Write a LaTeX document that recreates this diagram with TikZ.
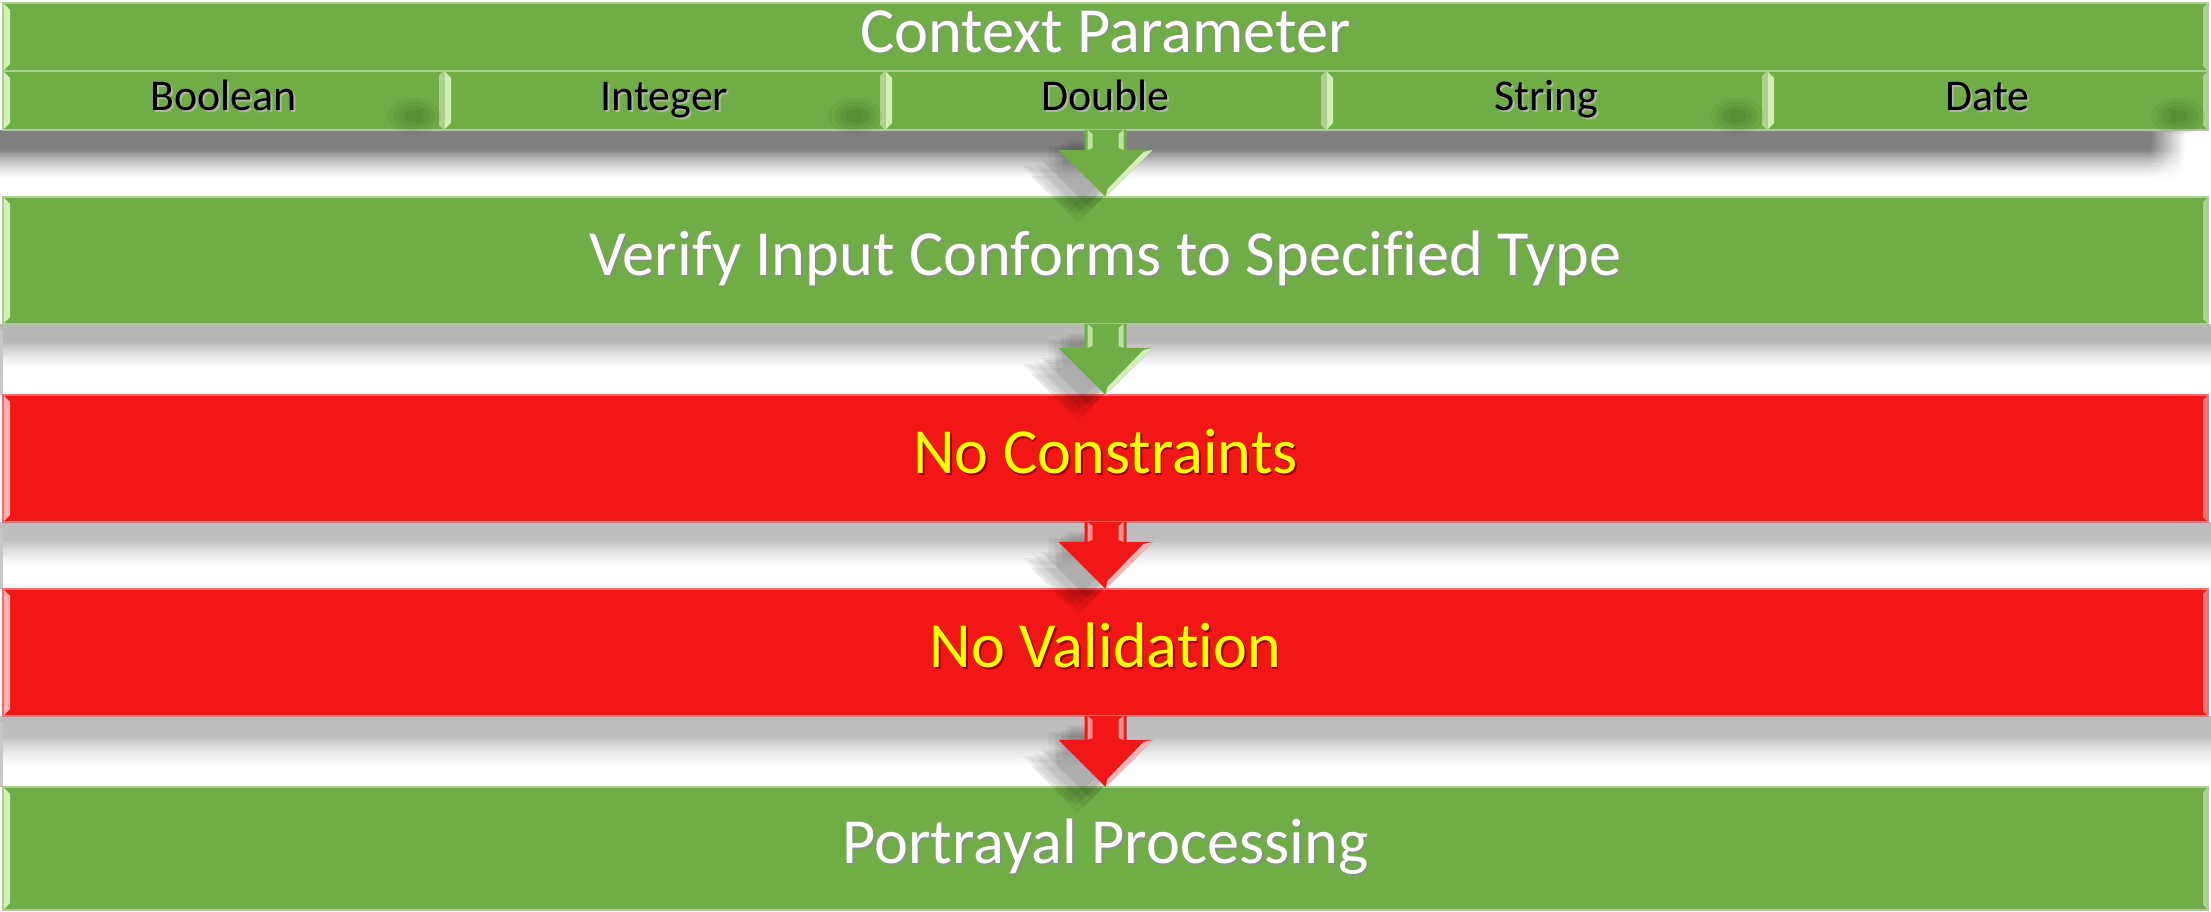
\documentclass[tikz,border=0pt]{standalone}
\usepackage{fontspec}
\setmainfont{Carlito}[Ligatures=NoCommon]
\usetikzlibrary{calc}
\definecolor{gfill}{HTML}{70AD47}
\definecolor{gedge}{HTML}{A9D18E}
\definecolor{glight}{HTML}{D2F0B4}
\definecolor{gdark}{HTML}{3F6A25}
\definecolor{rfill}{HTML}{F31616}
\definecolor{redge}{HTML}{FF6A6A}
\definecolor{rlight}{HTML}{FFB0B0}
\definecolor{ytext}{HTML}{FFFF00}
\newcommand{\dsh}[2]{\rlap{\kern0.5pt\raisebox{-0.5pt}{\textcolor{#1}{#2}}}#2}
% \vshadow{x1}{x2}{ytop}{height}{darkness}: gray at top fading to white below
\newcommand{\vshadow}[5]{%
  \foreach \i in {0,...,29}{
    \pgfmathsetmacro{\cc}{#5*min(1,(1-\i/30)*1.6)^1.5}
    \fill[black!\cc] (#1,{#3+\i*#4/30}) rectangle (#2,{#3+(\i+1.3)*#4/30});
  }
}
\newcommand{\blockarrow}[4]{%
  \foreach \dx/\dy in {-18/10,-24/14,-30/18,-22/20,-14/12,-36/16,-28/26}{
    \fill[black,opacity=0.05] ($(#1)+(-21+\dx,\dy)$) -- ($(#1)+(21+\dx,\dy)$) -- ($(#2)+(21+\dx,-47+\dy)$) -- ($(#2)+(47+\dx,-47+\dy)$) -- ($(#2)+(\dx,\dy)$) -- ($(#2)+(-47+\dx,-47+\dy)$) -- ($(#2)+(-21+\dx,-47+\dy)$) -- cycle;
  }
  \fill[#3] ($(#1)+(-21,0)$) -- ($(#1)+(21,0)$) -- ($(#2)+(21,-47)$) -- ($(#2)+(47,-47)$) -- (#2) -- ($(#2)+(-47,-47)$) -- ($(#2)+(-21,-47)$) -- cycle;
  \fill[#4,opacity=0.8] ($(#1)+(-18,0)$) -- ($(#1)+(-13,4)$) -- ($(#2)+(-13,-49)$) -- ($(#2)+(-18,-47)$) -- cycle;
  \fill[#4,opacity=0.8] ($(#1)+(18,0)$) -- ($(#1)+(13,4)$) -- ($(#2)+(13,-49)$) -- ($(#2)+(18,-47)$) -- cycle;
  \fill[#4] (#2) -- ($(#2)+(47,-47)$) -- ($(#2)+(38,-45)$) -- ($(#2)+(2,-8)$) -- cycle;
}
\begin{document}
\begin{tikzpicture}[x=0.1mm,y=-0.1mm,
  bevel/.style={path picture={
    \fill[#1] (path picture bounding box.north west) -- ++(7,7) -- ($(path picture bounding box.south west)+(7,-7)$) -- (path picture bounding box.south west) -- cycle;
    \fill[#1,opacity=0.6] (path picture bounding box.north east) -- ++(-5,5) -- ($(path picture bounding box.south east)+(-5,-5)$) -- (path picture bounding box.south east) -- cycle;
  }},
  band/.style={rectangle, inner sep=0pt, outer sep=0pt, line width=0.6pt, minimum width=220.5mm},
  gband/.style={band, fill=gfill, draw=gedge, bevel=glight},
  rband/.style={band, fill=rfill, draw=redge, bevel=rlight},
  cell/.style={rectangle, inner sep=0pt, outer sep=0pt, line width=0.6pt, fill=gfill, draw=gedge, bevel=glight, minimum width=44.1mm, minimum height=5.9mm, font=\fontsize{12.5}{15}\selectfont, text=black, text height=8.6pt, text depth=2.7pt},
  bigtext/.style={font=\fontsize{18.3}{22}\selectfont, text height=12.6pt, text depth=4pt}
]
\useasboundingbox (0,0) rectangle (2211,912);
\fill[white] (0,0) rectangle (2211,912);
% shadows below bands
\vshadow{0}{2150}{130}{50}{50}
\foreach \i in {0,...,19}{
  \pgfmathsetmacro{\cc}{50*min(1,(1-\i/20)*1.6)^1.5}
  \shade[left color=black!\cc, right color=white] (2150,{130+\i*2.5}) rectangle (2185,{130+(\i+1.3)*2.5});
}
\vshadow{0}{2211}{324}{46}{28}
\vshadow{0}{2211}{522}{46}{26}
\vshadow{0}{2211}{716}{52}{26}
\fill[black!22] (0,330) rectangle (3,395);
\fill[black!22] (0,528) rectangle (3,589);
\fill[black!22] (0,722) rectangle (3,787);

% top band
\node[gband, minimum height=6.8mm, text=white, bigtext] (ctx) at (1105.5,37) {\dsh{black!45}{Context Parameter}};
\node[cell] (bool) at (223.5,100.5) {\dsh{black!30}{Boolean}};
\node[cell] (int)  at (664.5,100.5) {\dsh{black!30}{Integer}};
\node[cell] (dbl)  at (1105.5,100.5) {\dsh{black!30}{Double}};
\node[cell] (str)  at (1546.5,100.5) {\dsh{black!30}{String}};
\node[cell] (date) at (1987.5,100.5) {\dsh{black!30}{Date}};
% soft dark spots at the cell dividers
\foreach \c in {bool,int,str,date}{
  \foreach \r/\o in {18/0.10,14/0.12,10/0.15,6/0.18}{
    \fill[gdark,opacity=\o] ($(\c.south east)+(-30,-14)$) ellipse ({\r*1.5} and \r);
  }
}

\node[gband, minimum height=12.7mm, text=white, bigtext] (verify) at (1105.5,260.5) {\dsh{black!45}{Verify Input Conforms to Specified Type}};
\node[rband, minimum height=12.7mm, text=ytext, bigtext] (nocon) at (1105.5,458.5) {\dsh{rfill!55!black}{No Constraints}};
\node[rband, minimum height=12.7mm, text=ytext, bigtext] (noval) at (1105.5,652.5) {\dsh{rfill!55!black}{No Validation}};
\node[gband, minimum height=12.3mm, text=white, bigtext] (portray) at (1105.5,848.5) {\dsh{black!45}{Portrayal Processing}};

% arrows
\blockarrow{dbl.south}{verify.north}{gfill}{glight}
\blockarrow{verify.south}{nocon.north}{gfill}{glight}
\blockarrow{nocon.south}{noval.north}{rfill}{rlight}
\blockarrow{noval.south}{portray.north}{rfill}{rlight}
\end{tikzpicture}
\end{document}
